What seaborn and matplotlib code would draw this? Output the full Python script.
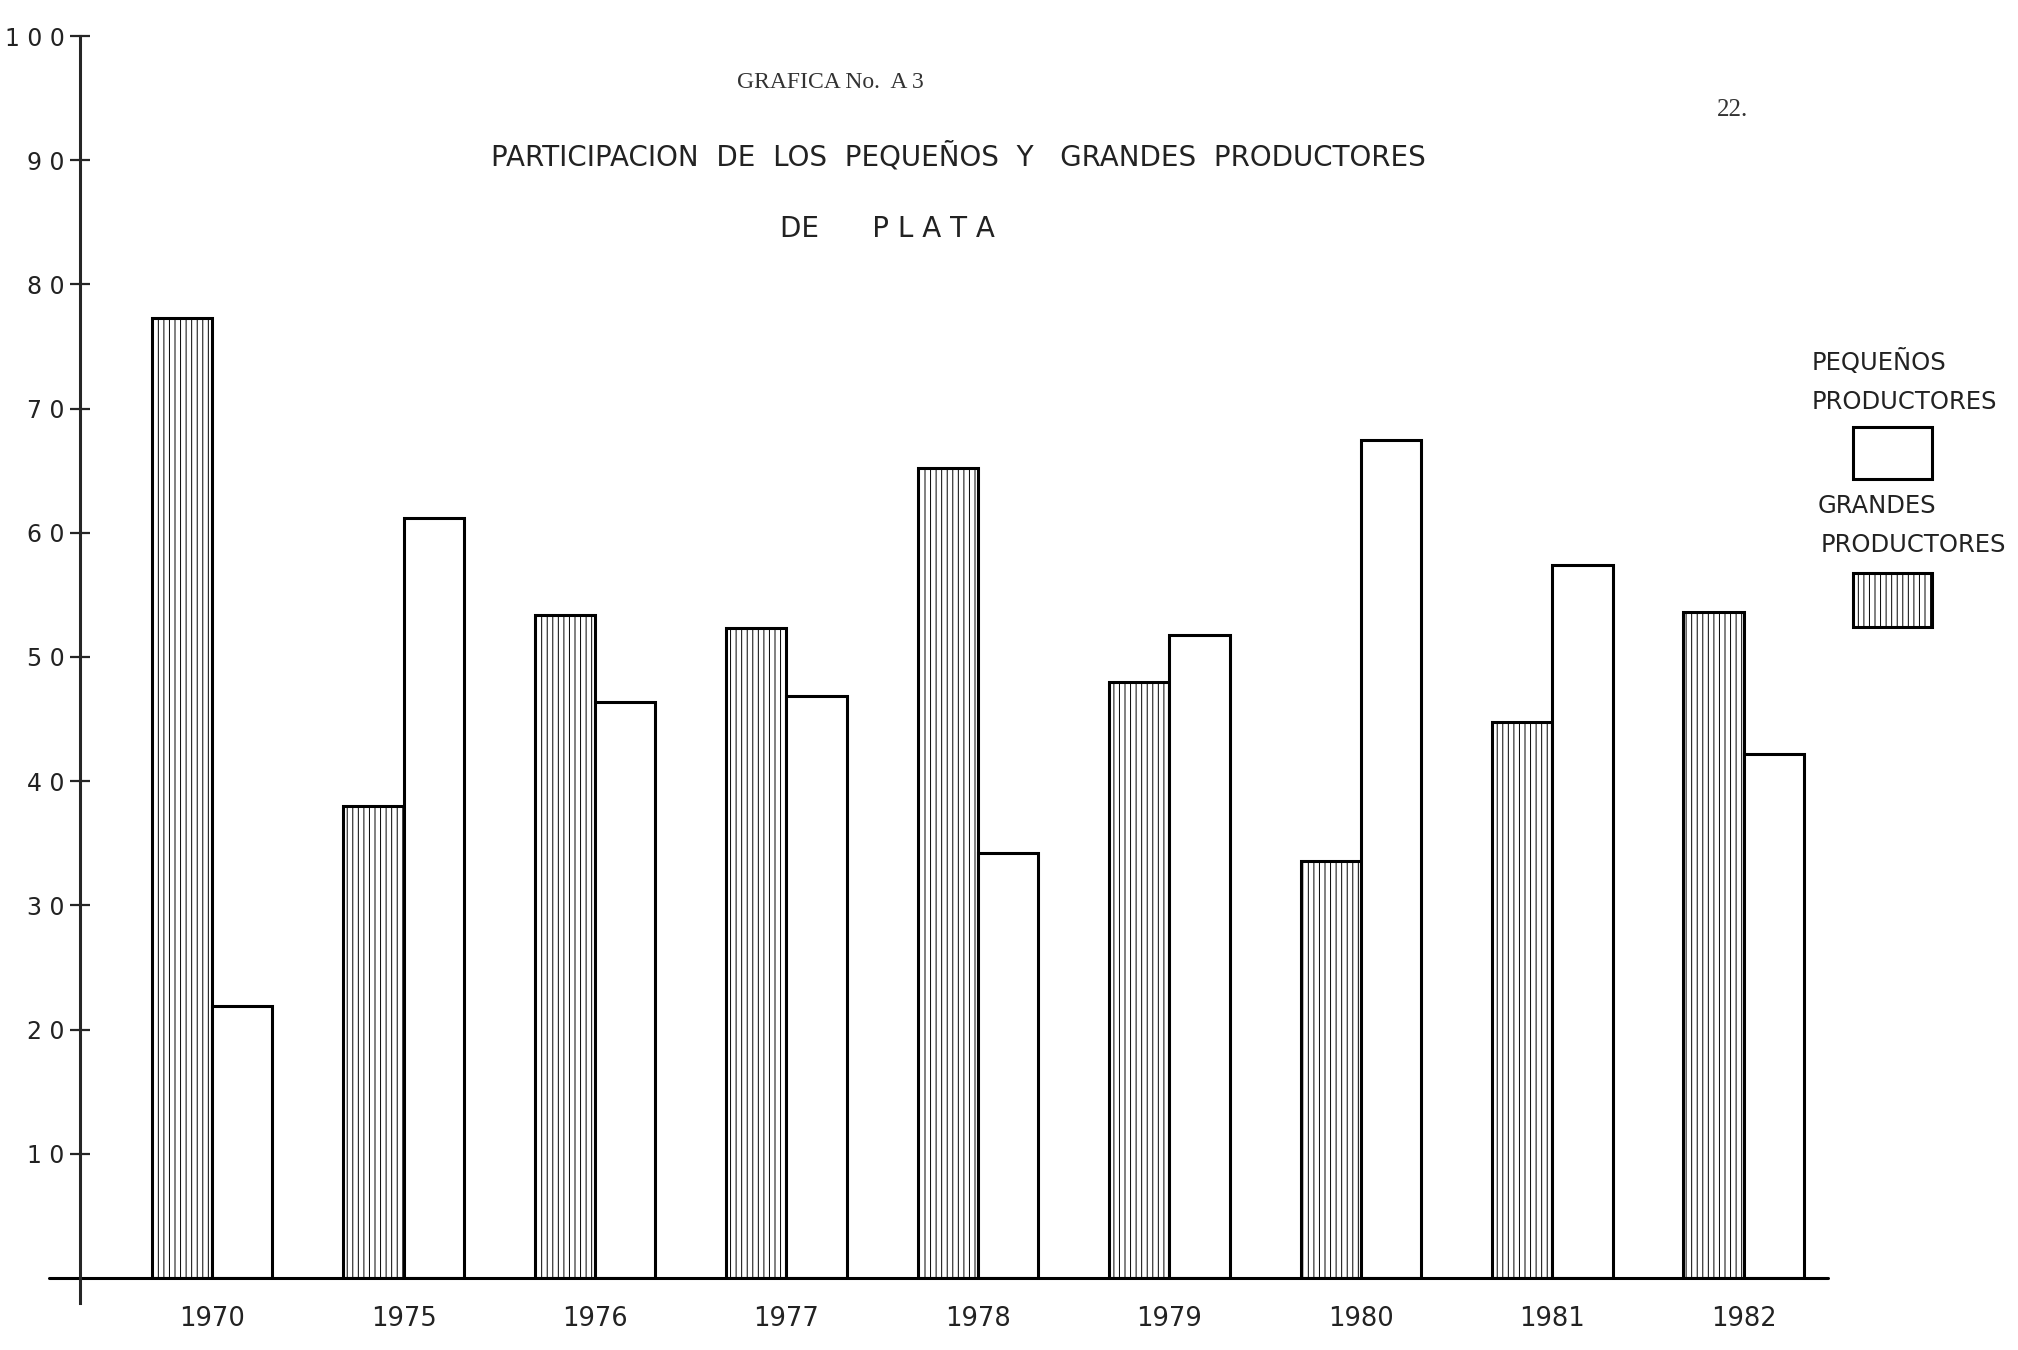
import pandas as pd
import matplotlib.pyplot as plt
import seaborn as sns
from matplotlib.patches import Rectangle

# data
years = ['1970', '1975', '1976', '1977', '1978', '1979', '1980', '1981', '1982']
grandes = [77.3, 38.0, 53.4, 52.3, 65.2, 48.0, 33.6, 44.8, 53.6]
pequenos = [21.9, 61.2, 46.4, 46.9, 34.2, 51.8, 67.5, 57.4, 42.2]
ytick_vals = [10, 20, 30, 40, 50, 60, 70, 80, 90, 100]
ytick_labels = ['1 0', '2 0', '3 0', '4 0', '5 0', '6 0', '7 0', '8 0', '9 0', '1 0 0']

df = pd.DataFrame({
    'year': years * 2,
    'value': grandes + pequenos,
    'serie': ['GRANDES'] * len(years) + ['PEQUENOS'] * len(years),
})

sns.set_style('white')
plt.rcParams['font.family'] = ['DejaVu Sans']
plt.rcParams['hatch.linewidth'] = 0.7
plt.rcParams['hatch.color'] = '#555555'

fig = plt.figure(figsize=(20.18, 13.5), dpi=100)
ax = fig.add_axes([80 / 2018, 1 - 1278 / 1350, (1828 - 80) / 2018, (1278 - 36) / 1350])

sns.barplot(data=df, x='year', y='value', hue='serie', hue_order=['GRANDES', 'PEQUENOS'],
            palette=['white', 'white'], edgecolor='black', linewidth=2.2, width=0.63,
            gap=0.0, legend=False, ax=ax)

# vertical hatching for the big producers
for bar in ax.containers[0]:
    bar.set_hatch('|||')

ax.set_xlim(-0.69, 8.44)
ax.set_ylim(0, 100)
ax.set_xlabel('')
ax.set_ylabel('')

sns.despine(ax=ax, top=True, right=True, bottom=True)
ax.spines['left'].set_linewidth(2.2)
ax.spines['left'].set_bounds(-2, 100)
ax.axhline(0, xmin=-0.018, xmax=1.0, color='black', lw=2.2, clip_on=False)

ax.set_yticks(ytick_vals)
ax.set_yticklabels(ytick_labels, fontsize=17, color='#222222')
ax.tick_params(axis='y', direction='inout', length=14, width=1.6, pad=4, left=True)
ax.tick_params(axis='x', length=0, pad=20, labelsize=18.5, labelcolor='#222222')

# titles
fig.text(830 / 2018, 1 - 82 / 1350, 'GRAFICA No.  A 3', ha='center', va='center',
         fontsize=17, family=['Liberation Serif', 'DejaVu Serif'], color='#333333')
fig.text(958 / 2018, 1 - 157 / 1350, 'PARTICIPACION  DE  LOS  PEQUEÑOS  Y   GRANDES  PRODUCTORES',
         ha='center', va='center', fontsize=20, color='#222222')
fig.text(887 / 2018, 1 - 229 / 1350, 'DE      P L A T A', ha='center', va='center',
         fontsize=20, color='#222222')
fig.text(1733 / 2018, 1 - 110 / 1350, '22.', ha='center', va='center', fontsize=18,
         color='#333333', family=['Liberation Serif', 'DejaVu Serif'])

# legend drawn by hand, text stacked over a box
lg_font = dict(fontsize=17.5, color='#222222')
fig.text(1812 / 2018, 1 - 362 / 1350, 'PEQUEÑOS', ha='left', va='center', **lg_font)
fig.text(1812 / 2018, 1 - 402 / 1350, 'PRODUCTORES', ha='left', va='center', **lg_font)
fig.patches.append(Rectangle((1853 / 2018, 1 - 479 / 1350), 79 / 2018, 52 / 1350,
                             transform=fig.transFigure, facecolor='white',
                             edgecolor='black', lw=2.2))
fig.text(1818 / 2018, 1 - 506 / 1350, 'GRANDES', ha='left', va='center', **lg_font)
fig.text(1821 / 2018, 1 - 545 / 1350, 'PRODUCTORES', ha='left', va='center', **lg_font)
fig.patches.append(Rectangle((1853 / 2018, 1 - 627 / 1350), 79 / 2018, 54 / 1350,
                             transform=fig.transFigure, facecolor='white',
                             edgecolor='black', lw=2.2, hatch='|||'))

fig.savefig('out.png', dpi=100)
